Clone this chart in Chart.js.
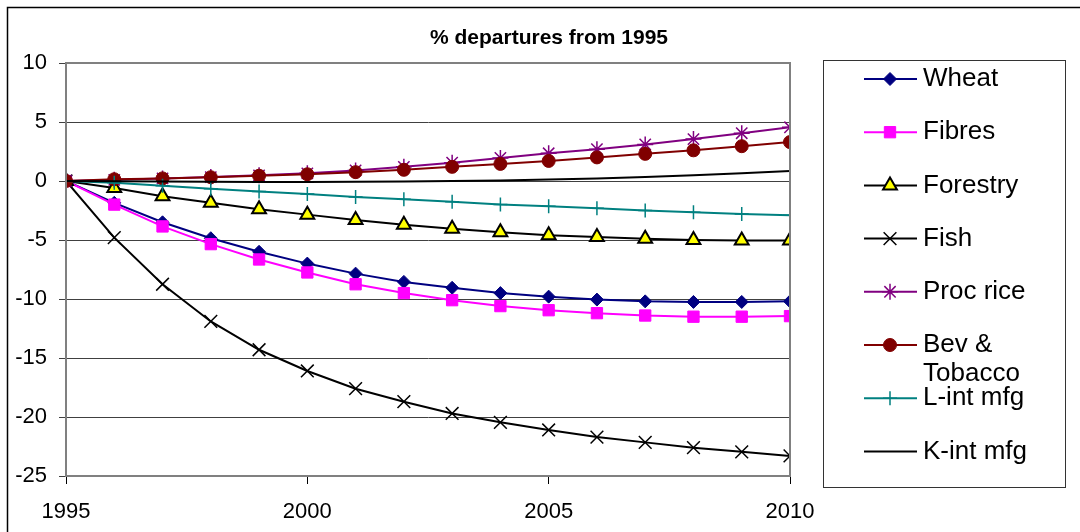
<!DOCTYPE html>
<html lang="en">
<head>
    <meta charset="UTF-8">
    <title>% departures from 1995</title>
    <script src="https://cdn.jsdelivr.net/npm/chart.js"></script>
    <style>
        html, body { margin: 0; padding: 0; background: #fff; }
        #wrap { width: 1080px; height: 532px; position: relative; }
    </style>
</head>
<body>
    <div id="wrap">
        <canvas id="departuresChart" width="1080" height="532"></canvas>
    </div>

    <script>
        // Series (% departures from 1995)
        const years = [1995, 1996, 1997, 1998, 1999, 2000, 2001, 2002, 2003, 2004, 2005, 2006, 2007, 2008, 2009, 2010];
        const wheat = [0, -1.85, -3.5, -4.85, -6.0, -7.0, -7.85, -8.55, -9.05, -9.5, -9.8, -10.05, -10.2, -10.25, -10.25, -10.2];
        const fibres = [0, -2.0, -3.85, -5.35, -6.65, -7.75, -8.75, -9.5, -10.1, -10.6, -10.95, -11.2, -11.4, -11.5, -11.5, -11.45];
        const forestry = [0, -0.6, -1.3, -1.85, -2.4, -2.85, -3.3, -3.7, -4.05, -4.35, -4.6, -4.75, -4.9, -5.0, -5.05, -5.05];
        const fish = [0, -4.8, -8.75, -11.9, -14.3, -16.1, -17.6, -18.7, -19.7, -20.45, -21.1, -21.7, -22.15, -22.6, -22.95, -23.3];
        const procRice = [0, 0.1, 0.22, 0.33, 0.48, 0.65, 0.9, 1.2, 1.55, 1.95, 2.35, 2.7, 3.1, 3.55, 4.05, 4.55];
        const bevTobacco = [0, 0.15, 0.22, 0.32, 0.45, 0.57, 0.75, 0.95, 1.2, 1.45, 1.7, 2.0, 2.3, 2.6, 2.95, 3.3];
        const lIntMfg = [0, -0.15, -0.4, -0.65, -0.9, -1.1, -1.35, -1.55, -1.75, -2.0, -2.15, -2.3, -2.5, -2.65, -2.8, -2.9];
        const kIntMfg = [0, -0.03, -0.05, -0.07, -0.08, -0.08, -0.07, -0.05, -0.01, 0.04, 0.12, 0.22, 0.34, 0.48, 0.65, 0.85];

        const yTicks = [-25, -20, -15, -10, -5, 0, 5, 10];
        const xTicks = [1995, 2000, 2005, 2010];
        const chartTitle = '% departures from 1995';

        const FONT = "'Liberation Sans', Arial, sans-serif";

        const toPoints = arr => arr.map((v, i) => ({ x: years[i], y: v }));

        const series = [
            { label: 'Wheat', data: wheat, color: '#000080', fill: '#000080', style: 'rectRot', radius: 6.5, bw: 1 },
            { label: 'Fibres', data: fibres, color: '#FF00FF', fill: '#FF00FF', style: 'rect', radius: 8, bw: 1 },
            { label: 'Forestry', data: forestry, color: '#000000', fill: '#FFFF00', style: 'triangle', radius: 8, bw: 2 },
            { label: 'Fish', data: fish, color: '#000000', fill: '#000000', style: 'crossRot', radius: 9, bw: 1.5 },
            { label: 'Proc rice', data: procRice, color: '#800080', fill: '#800080', style: 'star', radius: 8, bw: 1.5 },
            { label: ['Bev &', 'Tobacco'], data: bevTobacco, color: '#800000', fill: '#800000', style: 'circle', radius: 6.5, bw: 1 },
            { label: 'L-int mfg', data: lIntMfg, color: '#008080', fill: '#008080', style: 'cross', radius: 7, bw: 1.5 },
            { label: 'K-int mfg', data: kIntMfg, color: '#000000', fill: '#000000', style: 'circle', radius: 0, bw: 1 }
        ];

        const datasets = series.map((s, i) => ({
            label: s.label,
            data: toPoints(s.data),
            borderColor: s.color,
            backgroundColor: s.fill,
            borderWidth: 2,
            pointStyle: s.style,
            pointRadius: s.radius,
            pointBorderColor: s.color,
            pointBackgroundColor: s.fill,
            pointBorderWidth: s.bw,
            tension: 0,
            order: series.length - i
        }));

        // Frame, title, plot border and the boxed legend on the right
        const excelFrame = {
            id: 'excelFrame',
            beforeDraw(chart) {
                const ctx = chart.ctx;
                ctx.save();
                ctx.strokeStyle = '#000';
                ctx.lineWidth = 1.5;
                ctx.beginPath();
                ctx.moveTo(7.5, 540);
                ctx.lineTo(7.5, 7.5);
                ctx.lineTo(1090, 7.5);
                ctx.stroke();

                ctx.fillStyle = '#000';
                ctx.font = 'bold 21px ' + FONT;
                ctx.textAlign = 'center';
                ctx.textBaseline = 'middle';
                ctx.fillText(chartTitle, 549, 38);
                ctx.restore();
            },
            afterDatasetsDraw(chart) {
                const { ctx, chartArea: a } = chart;
                ctx.save();
                ctx.strokeStyle = '#808080';
                ctx.lineWidth = 2;
                ctx.strokeRect(a.left, a.top, a.right - a.left, a.bottom - a.top);
                ctx.restore();
            },
            afterDraw(chart) {
                const ctx = chart.ctx;
                ctx.save();
                ctx.strokeStyle = '#333';
                ctx.lineWidth = 1;
                ctx.strokeRect(823.5, 60.5, 242, 427);

                ctx.font = '26px ' + FONT;
                ctx.textAlign = 'left';
                ctx.textBaseline = 'middle';
                chart.data.datasets.forEach((ds, i) => {
                    const y = 79 + i * 53.2;
                    ctx.strokeStyle = ds.borderColor;
                    ctx.lineWidth = 2;
                    ctx.beginPath();
                    ctx.moveTo(864, y);
                    ctx.lineTo(917, y);
                    ctx.stroke();
                    if (ds.pointRadius > 0) {
                        ctx.fillStyle = ds.pointBackgroundColor;
                        ctx.strokeStyle = ds.pointBorderColor;
                        ctx.lineWidth = ds.pointBorderWidth;
                        Chart.helpers.drawPoint(ctx, {
                            pointStyle: ds.pointStyle,
                            radius: ds.pointRadius,
                            borderWidth: ds.pointBorderWidth,
                            rotation: 0
                        }, 890, y);
                    }
                    ctx.fillStyle = '#000';
                    const lines = Array.isArray(ds.label) ? ds.label : [ds.label];
                    lines.forEach((t, k) => ctx.fillText(t, 923, y + k * 29));
                });
                ctx.restore();
            }
        };

        const ctx = document.getElementById('departuresChart').getContext('2d');
        new Chart(ctx, {
            type: 'line',
            data: { datasets },
            options: {
                responsive: false,
                animation: false,
                layout: { padding: { top: 63, right: 290, left: 0, bottom: 0 } },
                plugins: {
                    legend: { display: false },
                    title: { display: false },
                    tooltip: { enabled: false }
                },
                scales: {
                    x: {
                        type: 'linear',
                        min: xTicks[0],
                        max: xTicks[xTicks.length - 1],
                        afterBuildTicks: s => { s.ticks = xTicks.map(v => ({ value: v })); },
                        afterFit: s => { s.height = 56; },
                        grid: { drawOnChartArea: false, drawTicks: true, tickLength: 8, color: '#000', lineWidth: 1 },
                        border: { display: true, color: '#808080', width: 2 },
                        ticks: {
                            color: '#000',
                            font: { family: FONT, size: 22 },
                            padding: 15,
                            maxRotation: 0,
                            callback: v => String(v)
                        }
                    },
                    y: {
                        min: yTicks[0],
                        max: yTicks[yTicks.length - 1],
                        afterBuildTicks: s => { s.ticks = yTicks.map(v => ({ value: v })); },
                        afterFit: s => { s.width = 66; },
                        grid: { color: '#404040', lineWidth: 1, tickLength: 7 },
                        border: { display: true, color: '#808080', width: 2 },
                        ticks: {
                            color: '#000',
                            font: { family: FONT, size: 22 },
                            padding: 12
                        }
                    }
                }
            },
            plugins: [excelFrame]
        });
    </script>
</body>
</html>
